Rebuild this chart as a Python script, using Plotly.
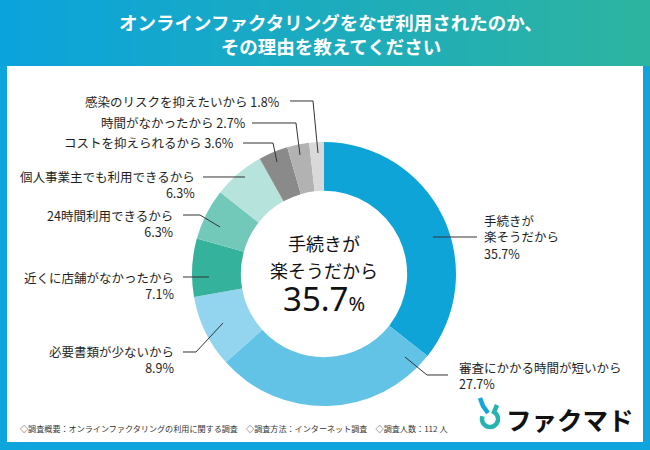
import math
import plotly.graph_objects as go

W, H = 650, 450

# data
reasons = [
    "手続きが<br>楽そうだから",
    "審査にかかる時間が短いから",
    "必要書類が少ないから",
    "近くに店舗がなかったから",
    "24時間利用できるから",
    "個人事業主でも利用できるから",
    "コストを抑えられるから",
    "時間がなかったから",
    "感染のリスクを抑えたいから",
]
shares = [35.7, 27.7, 8.9, 7.1, 6.3, 6.3, 3.6, 2.7, 1.8]
colors = ["#0fa4d8", "#63c3e6", "#93d4ef", "#35b29c", "#72c9b9",
          "#b6e3dc", "#8a8a8a", "#b2b2b2", "#d9d9d9"]

title = "オンラインファクタリングをなぜ利用されたのか、<br>その理由を教えてください"
note = "◇調査概要：オンラインファクタリングの利用に関する調査　◇調査方法：インターネット調査　◇調査人数：112 人"

FONT = "Noto Sans CJK JP"


def px(x, y):
    return x / W, 1 - y / H


def path_of(pts):
    s = ""
    for k, (x, y) in enumerate(pts):
        fx, fy = px(x, y)
        s += ("M" if k == 0 else "L") + "%.5f,%.5f " % (fx, fy)
    return s


# label placement (pixels) and leader lines
label_pos = [
    (482, 237, "left", False),
    (457, 375, "left", False),
    (176, 359, "right", False),
    (176, 285, "right", False),
    (176, 223, "right", False),
    (197, 184, "right", False),
    (236, 143, "right", True),
    (248, 123, "right", True),
    (282, 101, "right", True),
]
leaders = [
    [(433, 237), (477, 237)],
    [(405, 357), (427, 375), (448, 375)],
    [(183, 352), (196, 352), (223, 323)],
    [(183, 277), (209, 277)],
    [(183, 215), (200, 215), (220, 227)],
    [(203, 177), (245, 177)],
    [(243, 143), (273, 143), (277, 162)],
    [(252, 123), (296, 123), (300, 155)],
    [(290, 101), (313, 101), (318, 153)],
]

cx, cy, r = 324, 274, 132

fig = go.Figure(go.Pie(
    labels=[s.replace("<br>", "") for s in reasons],
    values=shares,
    marker=dict(colors=colors, line=dict(width=0)),
    sort=False,
    direction="clockwise",
    rotation=0,
    hole=0.63,
    textinfo="none",
    showlegend=False,
    domain=dict(x=[(cx - r) / W, (cx + r) / W],
                y=[(H - cy - r) / H, (H - cy + r) / H]),
))

shapes = []
# header gradient
left_c = (11, 163, 220)
right_c = (45, 180, 160)
n = 65
for i in range(n):
    t = i / (n - 1)
    c = tuple(round(a + (b - a) * t) for a, b in zip(left_c, right_c))
    shapes.append(dict(type="rect", xref="paper", yref="paper",
                       x0=i / n, x1=(i + 1.02) / n, y0=1 - 66 / H, y1=1,
                       fillcolor="rgb(%d,%d,%d)" % c, line=dict(width=0), layer="below"))
# white panel
x0, y0 = px(7, 442)
x1, y1 = px(643, 66)
shapes.append(dict(type="rect", xref="paper", yref="paper", x0=x0, x1=x1, y0=y0, y1=y1,
                   fillcolor="white", line=dict(width=0), layer="below"))

for pts in leaders:
    shapes.append(dict(type="path", xref="paper", yref="paper", path=path_of(pts),
                       line=dict(color="#333333", width=1)))

# logo mark
ring = []
for d in range(160, 425, 10):
    a = math.radians(d)
    ring.append((490 + 8 * math.cos(a), 419 - 8 * math.sin(a)))
ring.append((497, 405))
shapes.append(dict(type="path", xref="paper", yref="paper", path=path_of(ring),
                   line=dict(color="#27b3b0", width=4.5)))
shapes.append(dict(type="path", xref="paper", yref="paper",
                   path=path_of([(480, 398), (483, 406), (488, 413)]),
                   line=dict(color="#15a6d8", width=4.5)))

annotations = []
for (x, y, anchor, single), name, v in zip(label_pos, reasons, shares):
    sep = " " if single else "<br>"
    ax, ay = px(x, y)
    annotations.append(dict(x=ax, y=ay, xref="paper", yref="paper", xanchor=anchor,
                            yanchor="middle", align=anchor, showarrow=False,
                            text=f"{name}{sep}{v}%",
                            font=dict(family=FONT, size=12.5, color="#1e1e1e")))


def center_text(x, y, text, size, family=FONT, color="#111111", anchor="center"):
    ax, ay = px(x, y)
    return dict(x=ax, y=ay, xref="paper", yref="paper", xanchor=anchor, yanchor="middle",
                showarrow=False, text=text, font=dict(family=family, size=size, color=color))


annotations += [
    center_text(331, 34, f"<b>{title}</b>", 18.5, color="white"),
    center_text(cx, 243, "手続きが", 18),
    center_text(cx, 270, "楽そうだから", 18),
    center_text(cx, 298, f"{shares[0]}<span style='font-size:20px'>%</span>", 33,
                family="Noto Sans"),
    center_text(18, 428, note, 8.1, color="#333333", anchor="left"),
    center_text(504, 418, "<b>ファクマド</b>", 25.5, anchor="left"),
]

fig.update_layout(
    width=W, height=H,
    margin=dict(l=0, r=0, t=0, b=0),
    paper_bgcolor="#0ea5dc",
    plot_bgcolor="white",
    shapes=shapes,
    annotations=annotations,
)

fig.write_html("out.html", config={"displayModeBar": False},
               post_script="document.body.style.margin='0';")
